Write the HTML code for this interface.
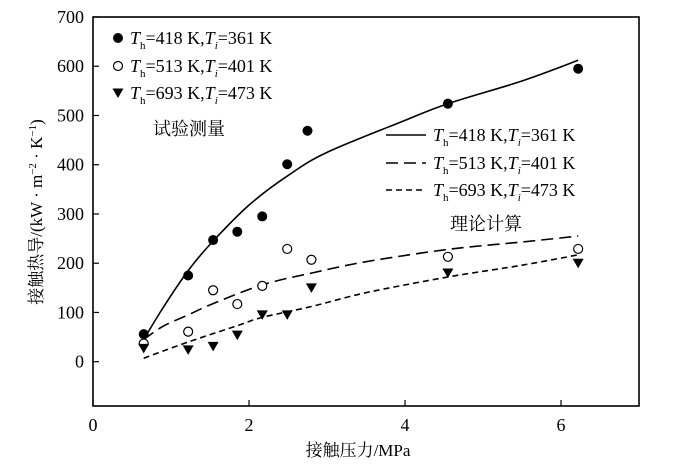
<!DOCTYPE html>
<html><head><meta charset="utf-8"><style>
body{margin:0;background:#fff}
svg{display:block;font-family:"Liberation Serif","Noto Serif CJK SC",serif}
</style></head><body>
<svg width="700" height="465" viewBox="0 0 700 465">
<g id="axes"></g>
<g id="marks"></g>
<g id="legend"></g>
<text transform="translate(42,212) rotate(-90)" text-anchor="middle" font-size="17" font-family="'Liberation Serif','Noto Serif CJK SC',serif">接触热导/(kW · m<tspan font-size="11" dy="-6">−2</tspan><tspan dy="6"> · K</tspan><tspan font-size="11" dy="-6">−1</tspan><tspan dy="6">)</tspan></text>
<text x="358" y="456" text-anchor="middle" font-size="17">接触压力/MPa</text>
<text x="153" y="135" font-size="18">试验测量</text>
<text x="450" y="230" font-size="18">理论计算</text>
</svg>
<script>
const xTicks=[0,2,4,6];
const yTicks=[0,100,200,300,400,500,600,700];
const px=[0.65,1.22,1.54,1.85,2.17,2.49,2.75,4.55,6.22];
const filledY=[56,175,247,264,295,401,469,524,595];
const openX=[0.65,1.22,1.54,1.85,2.17,2.49,2.8,4.55,6.22];
const openY=[37,61,145,117,154,229,207,213,229];
const triX=[0.65,1.22,1.54,1.85,2.17,2.49,2.8,4.55,6.22];
const triY=[27,24,31,54,95,95,150,180,200];
const solidX=[0.65,0.9,1.22,1.54,2.0,2.5,3.0,4.0,4.55,5.5,6.22];
const solidY=[45,110,185,245,318,378,425,490,524,570,612];
const longX=[0.65,0.9,1.22,1.54,2.17,2.8,3.5,4.55,5.5,6.22];
const longY=[45,72,95,118,156,180,203,228,243,255];
const shortX=[0.65,1.22,1.85,2.17,2.8,3.5,4.55,5.5,6.22];
const shortY=[7,40,73,90,112,140,172,196,217];
const NS='http://www.w3.org/2000/svg';
const L=93,R=639,T=17,B=406,xMin=0,xMax=7,yMin=-90,yMax=700;
const sx=v=>L+(v-xMin)/(xMax-xMin)*(R-L);
const sy=v=>B-(v-yMin)/(yMax-yMin)*(B-T);
function mk(tag,attrs,parent){const e=document.createElementNS(NS,tag);for(const k in attrs)e.setAttribute(k,attrs[k]);parent.appendChild(e);return e;}
const axes=document.getElementById('axes'),marks=document.getElementById('marks'),legend=document.getElementById('legend');
let f=mk('rect',{x:L,y:T,width:R-L,height:B-T,fill:'none',stroke:'#000','stroke-width':1.6},axes);


xTicks.forEach(v=>{
 let t=mk('line',{x1:sx(v),x2:sx(v),y1:B,y2:B-6,stroke:'#000','stroke-width':1.2},axes);
 
 
 let l=mk('text',{x:sx(v),y:431,'text-anchor':'middle','font-size':18},axes);l.textContent=v;
 
 
});
yTicks.forEach(v=>{
 let t=mk('line',{x1:L,x2:L+6,y1:sy(v),y2:sy(v),stroke:'#000','stroke-width':1.2},axes);
 
 
 let l=mk('text',{x:84,y:sy(v)+6,'text-anchor':'end','font-size':18},axes);l.textContent=v;
 
 
});
function line(xs,ys,dash,name){
 const P=xs.map((x,i)=>[sx(x),sy(ys[i])]);
 let d='M'+P[0][0].toFixed(1)+','+P[0][1].toFixed(1);
 for(let i=0;i<P.length-1;i++){
  const p0=P[Math.max(i-1,0)],p1=P[i],p2=P[i+1],p3=P[Math.min(i+2,P.length-1)];
  const c1=[p1[0]+(p2[0]-p0[0])/6,p1[1]+(p2[1]-p0[1])/6];
  const c2=[p2[0]-(p3[0]-p1[0])/6,p2[1]-(p3[1]-p1[1])/6];
  d+=` C${c1[0].toFixed(1)},${c1[1].toFixed(1)} ${c2[0].toFixed(1)},${c2[1].toFixed(1)} ${p2[0].toFixed(1)},${p2[1].toFixed(1)}`;
 }
 let p=mk('path',{d:d,fill:'none',stroke:'#000','stroke-width':1.6,'stroke-dasharray':dash},marks);
 
 
}
line(solidX,solidY,'none','theory-line-418');
line(longX,longY,'12,6','theory-line-513');
line(shortX,shortY,'6,4','theory-line-693');
px.forEach((x,i)=>{let c=mk('circle',{cx:sx(x),cy:sy(filledY[i]),r:5,fill:'#000'},marks);
 
 });
openX.forEach((x,i)=>{let c=mk('circle',{cx:sx(x),cy:sy(openY[i]),r:4.5,fill:'#fff',stroke:'#000','stroke-width':1.2},marks);
 
 });
function tri(cx,cy,p){return mk('path',{d:`M${cx-5.5},${cy-4.5} L${cx+5.5},${cy-4.5} L${cx},${cy+5} Z`,fill:'#000'},p);}
triX.forEach((x,i)=>{let t=tri(sx(x),sy(triY[i]),marks);
 
 });
function label(x,y,a,b){
 let t=mk('text',{x:x,y:y,'font-size':18},legend);
 t.innerHTML=`<tspan font-style="italic">T</tspan><tspan font-size="11" dy="5">h</tspan><tspan dy="-5">=${a} K,</tspan><tspan font-style="italic">T</tspan><tspan font-size="11" font-style="italic" dy="5">i</tspan><tspan dy="-5">=${b} K</tspan>`;
 
 
}
let m1=mk('circle',{cx:118,cy:38,r:5,fill:'#000'},legend);


label(130,44,'418','361');
let m2=mk('circle',{cx:118,cy:66,r:4.5,fill:'#fff',stroke:'#000','stroke-width':1.2},legend);


label(130,72,'513','401');
let m3=tri(118,93,legend);


label(130,99,'693','473');
[['none',135,'418','361'],['12,6',163,'513','401'],['6,4',190,'693','473']].forEach(r=>{
 let l=mk('line',{x1:386,x2:426,y1:r[1],y2:r[1],stroke:'#000','stroke-width':1.6,'stroke-dasharray':r[0]},legend);
 
 
 label(433,r[1]+6,r[2],r[3]);
});
</script>
</body></html>
